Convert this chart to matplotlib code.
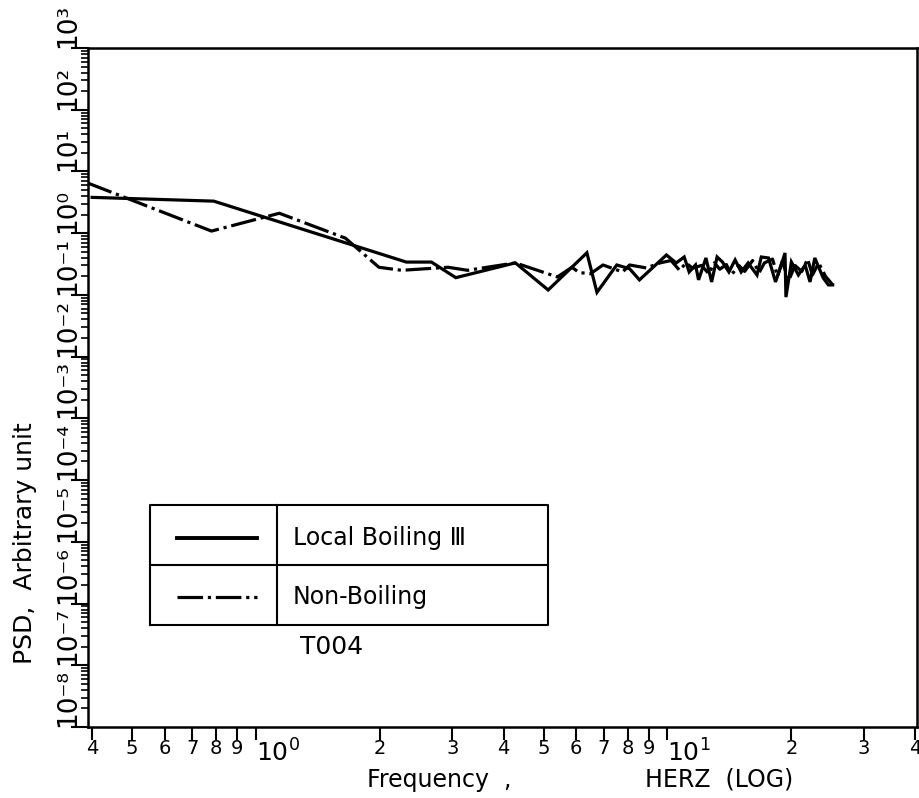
import matplotlib
matplotlib.use("Agg")
import matplotlib.pyplot as plt
import matplotlib.ticker as mticker
import numpy as np

plt.rcParams['font.family'] = ['DejaVu Sans']
plt.rcParams['mathtext.fontset'] = 'dejavusans'

# Local Boiling III (solid)
freq_lb = [0.4, 0.79, 2.32, 2.67, 3.06, 4.27, 5.13, 6.37, 6.74, 7.53, 8.09, 8.55,
           9.94, 10.5, 10.98, 11.29, 11.7, 11.9, 12.4, 12.8, 13.2, 13.6, 14.1, 14.6,
           15.1, 15.7, 16.5, 16.9, 17.6, 18.3, 18.8, 19.3, 19.4, 20.0, 20.8, 21.6,
           22.2, 22.8, 23.9, 24.6, 25.2]
psd_lb = [3.8, 3.3, 0.34, 0.34, 0.19, 0.33, 0.12, 0.48, 0.11, 0.305, 0.265, 0.175,
          0.443, 0.329, 0.411, 0.235, 0.305, 0.175, 0.396, 0.162, 0.411, 0.341, 0.235, 0.368,
          0.235, 0.329, 0.21, 0.411, 0.396, 0.162, 0.273, 0.478, 0.092, 0.341, 0.21, 0.305,
          0.162, 0.396, 0.188, 0.145, 0.145]

# Non-Boiling (dash-dot)
freq_nb = [0.39, 0.78, 1.14, 1.65, 1.99, 2.26, 2.93, 3.27, 4.27, 5.4, 5.86, 6.1, 6.5,
           6.97, 7.78, 8.09, 8.89, 9.6, 10.2, 10.7, 11.1, 11.5, 12.1, 12.6, 13.0, 13.4,
           13.9, 14.3, 14.9, 15.4, 16.1, 16.7, 17.2, 18.0, 18.5, 19.0, 19.7, 20.4, 21.2,
           21.9, 22.5, 23.3, 24.2, 24.9, 25.2]
psd_nb = [6.5, 1.08, 2.1, 0.83, 0.28, 0.25, 0.28, 0.25, 0.33, 0.195, 0.28, 0.23, 0.22,
          0.305, 0.235, 0.305, 0.273, 0.33, 0.36, 0.25, 0.33, 0.27, 0.30, 0.22, 0.33, 0.26,
          0.31, 0.21, 0.30, 0.24, 0.36, 0.23, 0.33, 0.38, 0.20, 0.35, 0.17, 0.30, 0.24,
          0.38, 0.21, 0.33, 0.20, 0.16, 0.145]

xtick_vals = [0.4, 0.5, 0.6, 0.7, 0.8, 0.9, 1, 2, 3, 4, 5, 6, 7, 8, 9, 10, 20, 30, 40]
xtick_labels = ['4', '5', '6', '7', '8', '9', r'$10^0$', '2', '3', '4', '5', '6', '7',
                '8', '9', r'$10^1$', '2', '3', '4']
ytick_exps = list(range(-8, 4))

fig = plt.figure(figsize=(9.2, 7.98), dpi=100)
ax = fig.add_axes([0.0957, 0.0890, 0.9011, 0.8509])

ax.plot(freq_lb, psd_lb, color='black', lw=2.3, solid_joinstyle='miter')
ax.plot(freq_nb, psd_nb, color='black', lw=2.3, linestyle=(0, (8, 1.5, 1, 1.5)))

ax.set_xscale('log')
ax.set_yscale('log')
ax.set_xlim(0.391, 40.4)
ax.set_ylim(1e-8, 1e3)

# x axis: every labelled value gets the same tick
ax.xaxis.set_minor_locator(mticker.NullLocator())
ax.set_xticks(xtick_vals)
ax.set_xticklabels(xtick_labels)
ax.tick_params(axis='x', which='major', direction='out', length=9, width=1.5,
               pad=0, labelsize=14)
for lab, txt in zip(ax.get_xticklabels(), xtick_labels):
    if txt.startswith('$'):
        lab.set_fontsize(18)
        lab.set_horizontalalignment('left')

# y axis: decades, labels rotated and sitting above their tick
ax.set_yticks([10.0 ** e for e in ytick_exps])
ax.set_yticklabels(['10' + ''.join('⁰¹²³⁴⁵⁶⁷⁸⁹'[int(c)] if c.isdigit() else '⁻'
                                   for c in str(e)) for e in ytick_exps])
ax.yaxis.set_minor_locator(mticker.LogLocator(base=10, subs=np.arange(2, 10), numticks=30))
ax.yaxis.set_minor_formatter(mticker.NullFormatter())
ax.tick_params(axis='y', which='major', direction='out', length=12, width=1.5,
               pad=-7, labelsize=19)
ax.tick_params(axis='y', which='minor', direction='out', length=5, width=1.2)
for lab in ax.get_yticklabels():
    lab.set_rotation(90)
    lab.set_verticalalignment('bottom')
    lab.set_horizontalalignment('right')

for sp in ax.spines.values():
    sp.set_linewidth(1.8)

fig.text(25 / 920, 1 - 543 / 798, 'PSD,  Arbitrary unit', rotation=90,
         ha='center', va='center', fontsize=18)
fig.text(367 / 920, 1 - 780 / 798, 'Frequency  ,', ha='left', va='center', fontsize=17)
fig.text(645 / 920, 1 - 780 / 798, 'HERZ  (LOG)', ha='left', va='center', fontsize=17)

# legend drawn as a small table
tr = ax.transAxes
x0, x1, xd = 0.0748, 0.555, 0.228
y0, y1, yd = 0.150, 0.327, 0.2386
ax.plot([x0, x1, x1, x0, x0], [y0, y0, y1, y1, y0], color='black', lw=1.5, transform=tr)
ax.plot([x0, x1], [yd, yd], color='black', lw=1.5, transform=tr)
ax.plot([xd, xd], [y0, y1], color='black', lw=1.5, transform=tr)
ax.plot([0.1074, 0.204], [0.278, 0.278], color='black', lw=2.8, transform=tr)
ax.plot([0.1074, 0.204], [0.1915, 0.1915], color='black', lw=2.3,
        linestyle=(0, (8, 1.5, 1, 1.5)), transform=tr)
ax.text(0.247, 0.278, 'Local Boiling Ⅲ', transform=tr, ha='left', va='center', fontsize=17)
ax.text(0.247, 0.1915, 'Non-Boiling', transform=tr, ha='left', va='center', fontsize=17)
ax.text(0.256, 0.1178, 'T004', transform=tr, ha='left', va='center', fontsize=18)

fig.savefig('out.png', dpi=100)
